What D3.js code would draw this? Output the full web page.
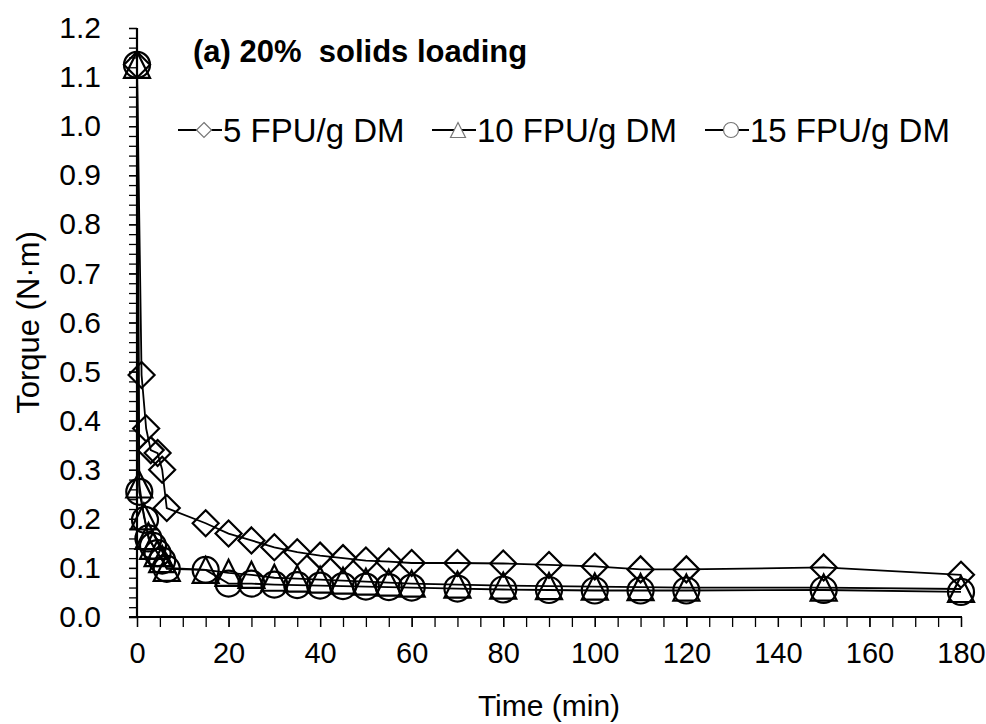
<!DOCTYPE html>
<html>
<head>
<meta charset="utf-8">
<script src="https://cdn.jsdelivr.net/npm/d3@7/dist/d3.min.js"></script>
<style>
  html, body { margin: 0; padding: 0; background: #fff; }
  svg { display: block; }
  text { font-family: "Liberation Sans", Arial, sans-serif; fill: #000; }
</style>
</head>
<body>
<svg id="chart" width="986" height="724"></svg>
<script>
// Torque vs hydrolysis time, three enzyme loadings
const time5    = [0, 1, 2, 3, 4.5, 5.5, 6.5, 15, 20, 25, 30, 35, 40, 45, 50, 55, 60, 70, 80, 90, 100, 110, 120, 150, 180];
const torque5  = [1.125, 0.493, 0.384, 0.340, 0.334, 0.300, 0.222, 0.191, 0.170, 0.156, 0.142, 0.132, 0.125, 0.120, 0.115, 0.113, 0.110, 0.110, 0.109, 0.106, 0.103, 0.097, 0.097, 0.101, 0.086];

const time10   = [0, 0.5, 1.5, 2.5, 3.5, 4.5, 5.5, 6.5, 15, 20, 25, 30, 35, 40, 45, 50, 55, 60, 70, 80, 90, 100, 110, 120, 150, 180];
const torque10 = [1.125, 0.270, 0.205, 0.165, 0.145, 0.130, 0.118, 0.100, 0.096, 0.090, 0.086, 0.080, 0.078, 0.076, 0.074, 0.072, 0.070, 0.068, 0.066, 0.064, 0.063, 0.062, 0.061, 0.060, 0.060, 0.057];

const time15   = [0, 0.5, 1.75, 2.5, 3.5, 4.5, 5.5, 6.5, 15, 20, 25, 30, 35, 40, 45, 50, 55, 60, 70, 80, 90, 100, 110, 120, 150, 180];
const torque15 = [1.125, 0.255, 0.198, 0.160, 0.145, 0.130, 0.115, 0.098, 0.096, 0.068, 0.068, 0.066, 0.065, 0.064, 0.063, 0.062, 0.061, 0.060, 0.058, 0.056, 0.055, 0.054, 0.054, 0.054, 0.055, 0.051];

const seriesNames  = ["5 FPU/g DM", "10 FPU/g DM", "15 FPU/g DM"];
const seriesShapes = ["diamond", "triangle", "circle"];

const xMajorTicks = [0, 20, 40, 60, 80, 100, 120, 140, 160, 180];
const yMajorTicks = [0, 0.1, 0.2, 0.3, 0.4, 0.5, 0.6, 0.7, 0.8, 0.9, 1.0, 1.1, 1.2];

const titleText = "(a) 20%\u00A0\u00A0solids loading";
const xTitle = "Time (min)";
const yTitle = "Torque (N\u00B7m)";

const series = [
  { name: seriesNames[0], shape: seriesShapes[0], pts: time5.map((t, i) => [t, torque5[i]]) },
  { name: seriesNames[1], shape: seriesShapes[1], pts: time10.map((t, i) => [t, torque10[i]]) },
  { name: seriesNames[2], shape: seriesShapes[2], pts: time15.map((t, i) => [t, torque15[i]]) }
];

const svg = d3.select("#chart");
const plot = { left: 137, right: 961, top: 28, bottom: 617 };

const x = d3.scaleLinear().domain([0, 180]).range([plot.left, plot.right]);
const y = d3.scaleLinear().domain([0, 1.2]).range([plot.bottom, plot.top]);

// marker outline centred on 0,0
function markerPath(shape, s) {
  const h = s / 2;
  if (shape === "diamond") return `M0,${-h}L${h},0L0,${h}L${-h},0Z`;
  if (shape === "triangle") return `M0,${-h}L${h},${h}L${-h},${h}Z`;
  const p = d3.path();
  p.moveTo(h, 0);
  p.arc(0, 0, h, 0, 2 * Math.PI);
  p.closePath();
  return p.toString();
}

// minor ticks, y every 0.02
const yMinor = d3.range(0, 61).map(i => i * 0.02);
svg.append("g")
  .attr("transform", `translate(${plot.left},0)`)
  .call(d3.axisLeft(y).tickValues(yMinor).tickSize(8).tickFormat(""))
  .call(g => g.select(".domain").remove())
  .call(g => g.selectAll("line").attr("stroke", "#000").attr("stroke-width", 1.3));

// minor ticks, x every 5
const xMinor = d3.range(0, 37).map(i => i * 5);
svg.append("g")
  .attr("transform", `translate(0,${plot.bottom})`)
  .call(d3.axisBottom(x).tickValues(xMinor).tickSize(10).tickFormat(""))
  .call(g => g.select(".domain").remove())
  .call(g => g.selectAll("line").attr("stroke", "#000").attr("stroke-width", 1.3));

// labelled y axis
svg.append("g")
  .attr("transform", `translate(${plot.left},0)`)
  .call(d3.axisLeft(y).tickValues(yMajorTicks).tickSize(8).tickPadding(28).tickFormat(d3.format(".1f")))
  .call(g => g.select(".domain").attr("stroke", "#000").attr("stroke-width", 2.2).attr("d", `M0,${plot.bottom}V${plot.top}`))
  .call(g => g.selectAll("line").attr("stroke", "#000").attr("stroke-width", 1.3))
  .call(g => g.selectAll("text").attr("font-size", 30).attr("font-family", "Liberation Sans, Arial, sans-serif"));

// labelled x axis
svg.append("g")
  .attr("transform", `translate(0,${plot.bottom})`)
  .call(d3.axisBottom(x).tickValues(xMajorTicks).tickSize(10).tickPadding(15).tickFormat(d3.format("d")))
  .call(g => g.select(".domain").attr("stroke", "#000").attr("stroke-width", 2.2).attr("d", `M${plot.left - 8},0H${plot.right + 1}`))
  .call(g => g.selectAll("line").attr("stroke", "#000").attr("stroke-width", 1.3))
  .call(g => g.selectAll("text").attr("font-size", 29).attr("font-family", "Liberation Sans, Arial, sans-serif"));

// series lines
const line = d3.line().x(d => x(d[0])).y(d => y(d[1]));
svg.append("g").selectAll("path.series")
  .data(series)
  .join("path")
  .attr("class", "series")
  .attr("d", d => line(d.pts))
  .attr("fill", "none")
  .attr("stroke", "#000")
  .attr("stroke-width", 1.8);

// series markers
series.forEach(s => {
  svg.append("g").selectAll("path")
    .data(s.pts)
    .join("path")
    .attr("transform", d => `translate(${x(d[0])},${y(d[1])})`)
    .attr("d", markerPath(s.shape, 26))
    .attr("fill", "none")
    .attr("stroke", "#000")
    .attr("stroke-width", 2.2);
});

// title
svg.append("text")
  .attr("x", 193).attr("y", 62)
  .attr("font-size", 31).attr("font-weight", "bold")
  .text(titleText);

// legend
const legendX = [178, 432, 705];
const legend = svg.append("g");
series.forEach((s, i) => {
  const g = legend.append("g").attr("transform", `translate(${legendX[i]},130)`);
  g.append("line").attr("x1", 0).attr("x2", 44).attr("y1", 0).attr("y2", 0)
    .attr("stroke", "#000").attr("stroke-width", 1.8);
  g.append("path").attr("transform", "translate(26,0)")
    .attr("d", markerPath(s.shape, 15))
    .attr("fill", "#fff").attr("stroke", "#777").attr("stroke-width", 1.2);
  g.append("text").attr("x", 45).attr("y", 0).attr("dy", "0.36em")
    .attr("font-size", 33).text(s.name);
});

// axis titles
svg.append("text")
  .attr("x", (plot.left + plot.right) / 2).attr("y", 716)
  .attr("text-anchor", "middle").attr("font-size", 30)
  .text(xTitle);
svg.append("text")
  .attr("transform", `translate(39,${(plot.top + plot.bottom) / 2}) rotate(-90)`)
  .attr("text-anchor", "middle").attr("font-size", 31)
  .text(yTitle);
</script>
</body>
</html>
